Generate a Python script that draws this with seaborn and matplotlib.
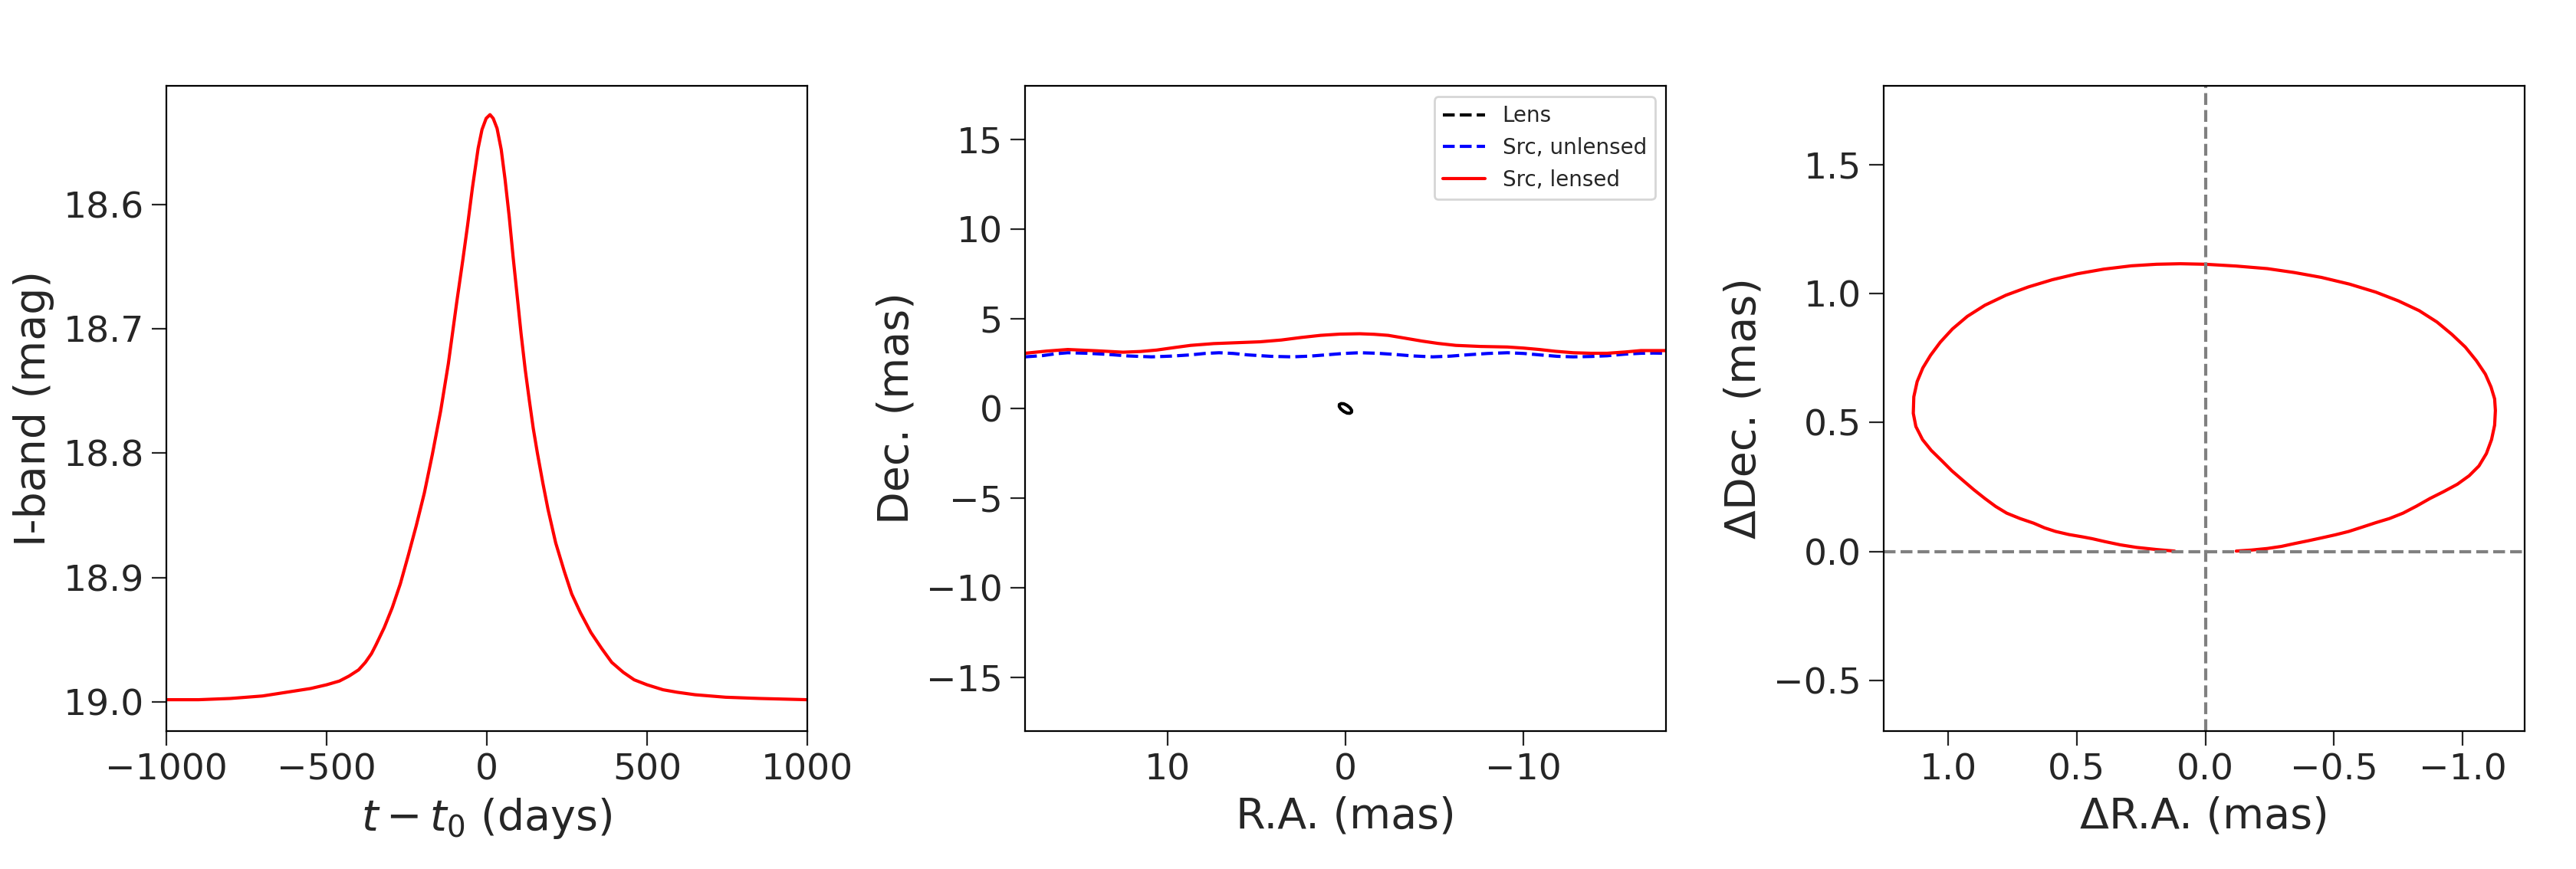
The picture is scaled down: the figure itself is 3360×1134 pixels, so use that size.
import numpy as np
import pandas as pd
import matplotlib
matplotlib.use('Agg')
import matplotlib.pyplot as plt
import seaborn as sns

# light curve
t_days = [-1000, -900, -800, -700, -600, -550, -500, -460, -430, -400, -379, -360, -346, -320,
          -295, -270, -245, -220, -195, -170, -144, -120, -94, -75, -60, -45, -27, -15, -2, 10,
          20, 32, 45, 57, 70, 82, 95, 107, 120, 133, 145, 158, 175, 191, 215, 242, 265, 292,
          325, 359, 390, 426, 460, 500, 550, 594, 650, 745, 850, 1000]
mag_I = [18.998, 18.998, 18.997, 18.995, 18.991, 18.989, 18.986, 18.983, 18.979, 18.974, 18.968,
         18.961, 18.954, 18.940, 18.924, 18.905, 18.882, 18.858, 18.832, 18.801, 18.766, 18.728,
         18.679, 18.645, 18.617, 18.587, 18.555, 18.540, 18.531, 18.528, 18.531, 18.539, 18.556,
         18.580, 18.610, 18.642, 18.674, 18.704, 18.733, 18.758, 18.780, 18.800, 18.824, 18.845,
         18.872, 18.895, 18.913, 18.928, 18.944, 18.957, 18.968, 18.976, 18.982, 18.986, 18.990,
         18.992, 18.994, 18.996, 18.997, 18.998]

# sky positions (mas)
src_ra = [18.0, 17.0, 16.3, 15.6, 14.5, 13.4, 12.2, 10.9, 9.8, 8.7, 7.9, 7.1, 6.3, 5.5, 4.2, 3.0,
          2.0, 1.1, 0.1, -0.8, -1.8, -2.7, -3.8, -4.9, -5.9, -6.8, -8.0, -9.1, -10.0, -10.9,
          -11.9, -12.8, -13.8, -14.7, -15.7, -16.6, -17.3, -18.0]
src_dec = [2.88, 2.95, 3.05, 3.11, 3.08, 3.02, 2.93, 2.88, 2.92, 2.99, 3.07, 3.11, 3.07, 2.99,
           2.91, 2.88, 2.92, 2.99, 3.07, 3.11, 3.08, 3.02, 2.93, 2.88, 2.92, 2.99, 3.07, 3.11,
           3.07, 2.99, 2.91, 2.88, 2.90, 2.94, 3.03, 3.08, 3.09, 3.08]
lensed_ra = [18.0, 16.8, 15.6, 14.0, 12.5, 11.5, 10.6, 9.6, 8.7, 7.4, 6.1, 4.8, 3.6, 2.5, 1.4,
             0.3, -0.8, -1.6, -2.4, -3.3, -4.3, -5.2, -6.2, -7.6, -9.1, -10.0, -10.9, -11.8,
             -12.8, -13.8, -14.7, -15.7, -16.6, -18.0]
lensed_dec = [3.08, 3.20, 3.29, 3.22, 3.14, 3.18, 3.26, 3.40, 3.52, 3.62, 3.67, 3.72, 3.82, 3.96,
              4.08, 4.15, 4.17, 4.14, 4.08, 3.93, 3.76, 3.63, 3.52, 3.46, 3.43, 3.37, 3.29, 3.19,
              3.11, 3.08, 3.08, 3.15, 3.23, 3.23]
# the lens traces the same small loop every year, so the dashes overlap into a solid ring
lens_ra = [0.34, 0.25, 0.09, -0.09, -0.26, -0.35, -0.34, -0.25, -0.09, 0.09, 0.26, 0.35, 0.34]
lens_dec = [0.21, 0.27, 0.26, 0.17, 0.03, -0.11, -0.21, -0.27, -0.26, -0.17, -0.03, 0.11, 0.21]

# astrometric shift (mas)
shift_ra = [0.120, 0.190, 0.266, 0.330, 0.392, 0.440, 0.477, 0.530, 0.582, 0.625, 0.667, 0.720,
            0.772, 0.815, 0.857, 0.900, 0.941, 0.985, 1.025, 1.065, 1.099, 1.125, 1.135, 1.133,
            1.120, 1.098, 1.068, 1.030, 0.983, 0.925, 0.857, 0.775, 0.688, 0.595, 0.498, 0.395,
            0.287, 0.190, 0.097, 0.0, -0.120, -0.241, -0.345, -0.451, -0.560, -0.662, -0.750,
            -0.831, -0.900, -0.958, -1.010, -1.053, -1.088, -1.110, -1.124, -1.127, -1.124,
            -1.112, -1.092, -1.063, -1.025, -0.979, -0.925, -0.873, -0.820, -0.768, -0.715,
            -0.662, -0.610, -0.557, -0.505, -0.451, -0.400, -0.346, -0.295, -0.241, -0.180, -0.120]
shift_dec = [0.002, 0.008, 0.016, 0.026, 0.039, 0.050, 0.057, 0.066, 0.078, 0.092, 0.110, 0.128,
             0.149, 0.175, 0.206, 0.240, 0.275, 0.313, 0.353, 0.392, 0.434, 0.485, 0.536, 0.600,
             0.659, 0.712, 0.761, 0.812, 0.863, 0.912, 0.955, 0.994, 1.026, 1.054, 1.077, 1.095,
             1.108, 1.114, 1.116, 1.114, 1.107, 1.097, 1.082, 1.063, 1.037, 1.006, 0.972, 0.934,
             0.890, 0.842, 0.793, 0.740, 0.688, 0.638, 0.592, 0.547, 0.490, 0.434, 0.380, 0.332,
             0.294, 0.261, 0.232, 0.206, 0.176, 0.149, 0.128, 0.112, 0.095, 0.078, 0.065, 0.053,
             0.042, 0.031, 0.020, 0.012, 0.006, 0.002]

sns.set_style('ticks')
plt.rcParams['font.family'] = ['DejaVu Sans']

fig = plt.figure(figsize=(16.8, 5.67), dpi=200)
fig.subplots_adjust(left=0.0646, right=0.98, bottom=0.159, top=0.901, wspace=0.34)
ax1 = fig.add_subplot(1, 3, 1)
ax2 = fig.add_subplot(1, 3, 2)
ax3 = fig.add_subplot(1, 3, 3)

# Light curve
sns.lineplot(x=t_days, y=mag_I, ax=ax1, color='red', lw=1.5, sort=False, estimator=None)
ax1.set_xlim(-1000, 1000)
ax1.set_ylim(19.023, 18.505)
ax1.set_xticks([-1000, -500, 0, 500, 1000])
ax1.set_yticks([18.6, 18.7, 18.8, 18.9, 19.0])
ax1.set_xlabel(r'$t - t_0$ (days)', fontsize=20)
ax1.set_ylabel('I-band (mag)', fontsize=20)

# Sky positions
ax2.plot([], [], color='black', ls='--', lw=1.5, label='Lens')  # legend entry only
sns.lineplot(x=lens_ra, y=lens_dec, ax=ax2, color='black', ls='-', lw=1.5,
             sort=False, estimator=None)
sns.lineplot(x=src_ra, y=src_dec, ax=ax2, color='blue', ls='--', lw=1.5,
             sort=False, estimator=None, label='Src, unlensed')
sns.lineplot(x=lensed_ra, y=lensed_dec, ax=ax2, color='red', lw=1.5,
             sort=False, estimator=None, label='Src, lensed')
ax2.set_xlim(18, -18)
ax2.set_ylim(-18, 18)
ax2.set_xticks([10, 0, -10])
ax2.set_yticks([-15, -10, -5, 0, 5, 10, 15])
ax2.set_xlabel('R.A. (mas)', fontsize=20)
ax2.set_ylabel('Dec. (mas)', fontsize=20)
ax2.legend(loc='upper right', fontsize=10)

# Astrometric shift
sns.lineplot(x=shift_ra, y=shift_dec, ax=ax3, color='red', lw=1.5, sort=False, estimator=None)
ax3.axhline(0, color='gray', ls='--', lw=1.5)
ax3.axvline(0, color='gray', ls='--', lw=1.5)
ax3.set_xlim(1.25, -1.24)
ax3.set_ylim(-0.695, 1.805)
ax3.set_xticks([1.0, 0.5, 0.0, -0.5, -1.0])
ax3.set_yticks([-0.5, 0.0, 0.5, 1.0, 1.5])
ax3.set_xlabel('ΔR.A. (mas)', fontsize=20)
ax3.set_ylabel('ΔDec. (mas)', fontsize=20)

for ax in (ax1, ax2, ax3):
    ax.tick_params(labelsize=17, length=7, width=0.8, direction='out')
    for sp in ax.spines.values():
        sp.set_visible(True)
        sp.set_linewidth(0.8)
        sp.set_color('black')

fig.savefig('out.png', dpi=200)
